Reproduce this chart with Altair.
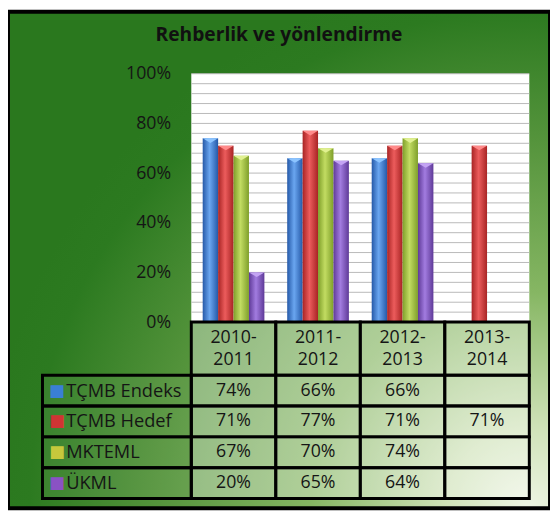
import altair as alt
import pandas as pd

# ---------------- data ----------------
years = ["2010-2011", "2011-2012", "2012-2013", "2013-2014"]
year_labels = ["2010-\n2011", "2011-\n2012", "2012-\n2013", "2013-\n2014"]
series = ["TÇMB Endeks", "TÇMB Hedef", "MKTEML", "ÜKML"]
tcmb_endeks = [0.74, 0.66, 0.66, None]
tcmb_hedef = [0.71, 0.77, 0.71, 0.71]
mkteml = [0.67, 0.70, 0.74, None]
ukml = [0.20, 0.65, 0.64, None]
y_ticks = [0, 0.2, 0.4, 0.6, 0.8, 1.0]
grid_lines = [0, 0.04, 0.08, 0.12, 0.16, 0.2, 0.24, 0.28, 0.32, 0.36, 0.4, 0.44, 0.48,
              0.52, 0.56, 0.6, 0.64, 0.68, 0.72, 0.76, 0.8, 0.84, 0.88, 0.92, 0.96, 1.0]
values_by_series = [tcmb_endeks, tcmb_hedef, mkteml, ukml]

# ---------------- styles ----------------
FONT = "Open Sans"
TXT = "#151515"
dark = ["#2559a8", "#a82424", "#7f9f2a", "#5f3a98"]
light = ["#6aa6f0", "#ec5c5c", "#c2dc62", "#a27ce0"]
cap = ["#8cc4ff", "#ff8a8a", "#e0f090", "#c4a4f4"]
legend_cols = ["#3a7fd5", "#d03434", "#c6c83c", "#8a52c4"]

# ---------------- layout ----------------
W, H = 550, 504
PL, PR, PT, PB = 186, 529, 63, 315
TB = 494
LABEL_L = 35
HEADER_H = 54
ROW_H = (TB - PB - HEADER_H) / 4
COL_W = (PR - PL) / 4
LABEL_C0 = (LABEL_L - PL) / COL_W
HEADER_R0 = -HEADER_H / ROW_H

col_scale = alt.Scale(domain=[0, 4], range=[PL, PR], nice=False, zero=False)
row_scale = alt.Scale(domain=[0, 4], range=[PB + HEADER_H, TB], nice=False, zero=False)
y_scale = alt.Scale(domain=[0, 1], range=[PB, PT], nice=False, zero=False)
x_band = alt.Scale(domain=years, range=[PL, PR], paddingInner=0.27, paddingOuter=0.135)
off_scale = alt.Scale(domain=series)

# ---------------- tables ----------------
bars = []
cells = []
for i, s in enumerate(series):
    for j, y in enumerate(years):
        v = values_by_series[i][j]
        if v is not None:
            bars.append({"year": y, "series": s, "value": v})
        cells.append({"c0": j, "c1": j + 1, "cx": j + 0.5, "r0": i, "r1": i + 1, "rc": i + 0.5,
                      "text": "" if v is None else f"{round(v * 100)}%"})
bars_df = pd.DataFrame(bars)
cells_df = pd.DataFrame(cells)
header_df = pd.DataFrame({"c0": list(range(4)), "c1": [j + 1 for j in range(4)],
                          "cx": [j + 0.5 for j in range(4)], "r0": HEADER_R0, "r1": 0,
                          "rc": HEADER_R0 / 2, "text": year_labels})
label_df = pd.DataFrame({"series": series, "c0": LABEL_C0, "c1": 0,
                         "r0": list(range(4)), "r1": [i + 1 for i in range(4)],
                         "rc": [i + 0.5 for i in range(4)]})
plot_df = pd.DataFrame({"c0": [0], "c1": [4], "v0": [0], "v1": [1]})
grid_df = pd.DataFrame({"v": grid_lines, "c0": 0, "c1": 4})

# ---------------- layers ----------------
bg_grad = alt.Gradient(gradient="radial", x1=0.96, y1=0.96, r1=0, x2=0.96, y2=0.96, r2=1.0, stops=[
    alt.GradientStop(offset=0, color="#eef5e4"),
    alt.GradientStop(offset=0.15, color="#cfe2b8"),
    alt.GradientStop(offset=0.4, color="#86b663"),
    alt.GradientStop(offset=0.68, color="#55943c"),
    alt.GradientStop(offset=0.92, color="#2c7a20"),
    alt.GradientStop(offset=1, color="#2a781e"),
])
frame = alt.Chart(plot_df).mark_rect(fill=bg_grad, stroke="black", strokeWidth=4).encode(
    x=alt.value(0), x2=alt.value(W), y=alt.value(0), y2=alt.value(H),
)

plot_bg = alt.Chart(plot_df).mark_rect(fill="white").encode(
    x=alt.X("c0:Q", scale=col_scale, axis=None),
    x2="c1:Q",
    y=alt.Y("v0:Q", scale=y_scale,
            axis=alt.Axis(orient="left", values=y_ticks, format=".0%", offset=-PL, grid=False,
                          ticks=False, domain=False, labelPadding=21, labelFontSize=18,
                          labelFont=FONT, labelColor=TXT, title=None, zindex=2)),
    y2="v1:Q",
)

grid = alt.Chart(grid_df).mark_rule(color="#b9b9b9", strokeWidth=1).encode(
    x=alt.X("c0:Q", scale=col_scale, axis=None),
    x2="c1:Q",
    y=alt.Y("v:Q", scale=y_scale, axis=None),
)

bar_layers = []
for i, s in enumerate(series):
    grad = alt.Gradient(gradient="linear", x1=0, x2=1, y1=0, y2=0, stops=[
        alt.GradientStop(offset=0, color=dark[i]),
        alt.GradientStop(offset=0.45, color=light[i]),
        alt.GradientStop(offset=1, color=dark[i]),
    ])
    base = alt.Chart(bars_df).transform_filter(alt.datum.series == s)
    bar_layers.append(base.mark_bar(color=grad).encode(
        x=alt.X("year:N", scale=x_band, axis=None),
        xOffset=alt.XOffset("series:N", scale=off_scale),
        y=alt.Y("value:Q", scale=y_scale, axis=None),
    ))
    bar_layers.append(base.mark_point(shape="M-1,0L1,0L0,0.6Z", filled=True, size=240,
                                      color=cap[i], opacity=1, strokeWidth=0).encode(
        x=alt.X("year:N", scale=x_band, axis=None),
        xOffset=alt.XOffset("series:N", scale=off_scale),
        y=alt.Y("value:Q", scale=y_scale, axis=None),
    ))

def cell_rects(df, opacity):
    return alt.Chart(df).mark_rect(fill="white", fillOpacity=opacity, stroke="black",
                                   strokeWidth=3).encode(
        x=alt.X("c0:Q", scale=col_scale, axis=None),
        x2="c1:Q",
        y=alt.Y("r0:Q", scale=row_scale, axis=None),
        y2="r1:Q",
    )

header_cells = cell_rects(header_df, 0.35)
value_cells = cell_rects(cells_df, 0.35)
label_cells = cell_rects(label_df, 0.06)

header_text = alt.Chart(header_df).mark_text(font=FONT, fontSize=18, color=TXT, lineBreak="\n",
                                             lineHeight=23, baseline="middle", dy=-11).encode(
    x=alt.X("cx:Q", scale=col_scale, axis=None),
    y=alt.Y("rc:Q", scale=row_scale, axis=None),
    text="text:N",
)
value_text = alt.Chart(cells_df).mark_text(font=FONT, fontSize=18, color=TXT,
                                           baseline="middle").encode(
    x=alt.X("cx:Q", scale=col_scale, axis=None),
    y=alt.Y("rc:Q", scale=row_scale, axis=None),
    text="text:N",
)
label_text = alt.Chart(label_df).mark_text(font=FONT, fontSize=18.5, color=TXT, align="left",
                                           baseline="middle", dx=24).encode(
    x=alt.X("c0:Q", scale=col_scale, axis=None),
    y=alt.Y("rc:Q", scale=row_scale, axis=None),
    text="series:N",
)
label_marks = alt.Chart(label_df).mark_text(font="DejaVu Sans", fontSize=17, align="left",
                                            baseline="middle", dx=7, text="■").encode(
    x=alt.X("c0:Q", scale=col_scale, axis=None),
    y=alt.Y("rc:Q", scale=row_scale, axis=None),
    color=alt.Color("series:N", scale=alt.Scale(domain=series, range=legend_cols), legend=None),
)

chart = alt.layer(
    frame, plot_bg, grid, *bar_layers, header_cells, value_cells, label_cells,
    header_text, value_text, label_text, label_marks,
).resolve_scale(x="independent", y="independent", color="independent").properties(
    width=W, height=H,
    autosize=alt.AutoSizeParams(type="none"),
    padding=0,
    title=alt.TitleParams(text="Rehberlik ve yönlendirme", font=FONT, fontSize=19.5,
                          fontWeight="bold", color="#111111", anchor="middle", frame="group",
                          baseline="top", offset=-36),
).configure_view(stroke=None)

chart.save("out.html", embed_options={"renderer": "svg", "actions": False})
